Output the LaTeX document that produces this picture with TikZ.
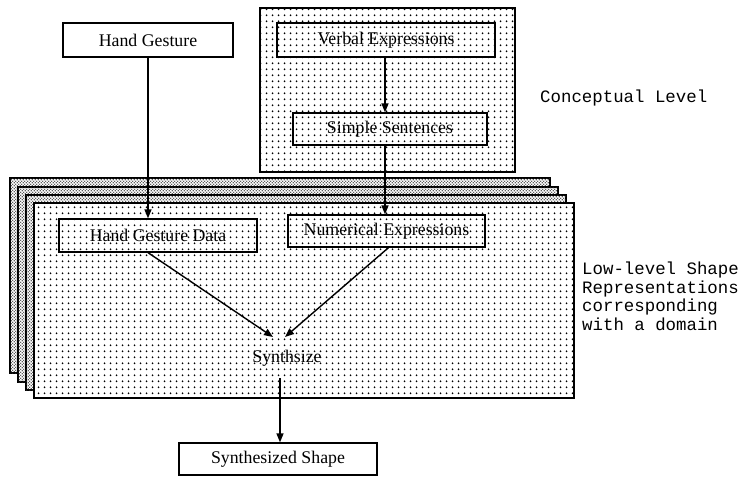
\documentclass[tikz,border=0pt]{standalone}
\usepackage{fontspec}
\setmainfont{Liberation Serif}
\newfontfamily\monofont{Liberation Mono}
\usetikzlibrary{arrows.meta,patterns}
\pgfdeclarepatternformonly{bigdots}{\pgfqpoint{0pt}{0pt}}{\pgfqpoint{6pt}{5.7pt}}{\pgfqpoint{6pt}{5.7pt}}{\pgfpathcircle{\pgfqpoint{3pt}{2.85pt}}{1.05pt}\pgfusepath{fill}}
\pgfdeclarepatternformonly{smalldots}{\pgfqpoint{0pt}{0pt}}{\pgfqpoint{3.4pt}{3.4pt}}{\pgfqpoint{3.4pt}{3.4pt}}{\pgfpathcircle{\pgfqpoint{0.85pt}{0.85pt}}{0.8pt}\pgfpathcircle{\pgfqpoint{2.55pt}{2.55pt}}{0.8pt}\pgfusepath{fill}}
\newcommand\boxfont{\fontsize{17.8pt}{20pt}\selectfont}
\newcommand\codefont{\monofont\fontsize{17.4pt}{18.4pt}\selectfont}
\begin{document}
\begin{tikzpicture}[x=1pt,y=-1pt,
  layerback/.style={draw, line width=1.3pt, fill=white, postaction={pattern=smalldots, pattern color=black!85}},
  layerfront/.style={draw, line width=1.4pt, fill=white, postaction={pattern=bigdots, pattern color=black}},
  whitebox/.style={draw, line width=1.3pt, fill=white, inner sep=0pt, font=\boxfont},
  dotbox/.style={draw, line width=1.3pt, inner sep=0pt, font=\boxfont},
  arr/.style={-{Triangle[length=9pt,width=7pt]}, line width=1.4pt},
  plain/.style={inner sep=0pt, font=\boxfont}]
\useasboundingbox (0,0) rectangle (746,476);
% stacked domain layers
\draw[layerback] (10,178) rectangle (550,373);
\draw[layerback] (18,187) rectangle (558,382);
\draw[layerback] (26,195) rectangle (566,390);
\draw[layerfront] (34,203) rectangle (574,398);
% conceptual level panel
\draw[layerfront] (260,8) rectangle (515,172);
% nodes
\node[whitebox, minimum width=170pt, minimum height=34pt] (hg) at (148,40) {Hand Gesture};
\node[dotbox, minimum width=218pt, minimum height=34pt] (ve) at (386,40) {Verbal Expressions};
\node[dotbox, minimum width=194pt, minimum height=32pt] (ss) at (390,129) {Simple Sentences};
\node[dotbox, minimum width=198pt, minimum height=33pt] (hgd) at (158,235.5) {Hand Gesture Data};
\node[dotbox, minimum width=197pt, minimum height=32pt] (ne) at (386.5,231) {Numerical Expressions};
\node[plain] (syn) at (287,358) {Synthsize};
\node[whitebox, minimum width=198pt, minimum height=32pt] (shape) at (278,459) {Synthesized Shape};
\node[anchor=west, inner sep=0pt, font=\codefont] (cl) at (540,98) {Conceptual Level};
\node[anchor=north west, align=left, inner sep=0pt, font=\codefont] (ll) at (582,262) {Low-level Shape\\Representations\\corresponding\\with a domain};
% connector ends near Synthsize
\coordinate (synL) at (273,337);
\coordinate (synR) at (285,337);
\coordinate (synOut) at (280,378);
% connectors
\draw[arr] (hg.south) -- (hg.south |- hgd.north);
\draw[arr] (ve.south -| 385,0) -- (ss.north -| 385,0);
\draw[arr] (ss.south -| 385,0) -- (ne.north -| 385,0);
\draw[arr] (hgd.south -| hg.south) -- (synL);
\draw[arr] ([xshift=2pt]ne.south) -- (synR);
\draw[arr] (synOut) -- (synOut |- shape.north);
\end{tikzpicture}
\end{document}
